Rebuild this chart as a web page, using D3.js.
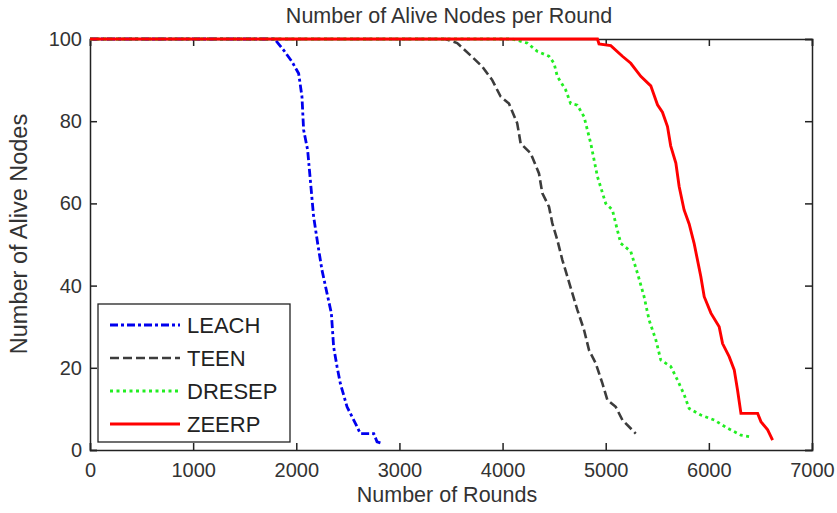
<!DOCTYPE html>
<html>
<head>
<meta charset="utf-8">
<script src="https://d3js.org/d3.v7.min.js"></script>
<style>
  body { margin: 0; background: #fff; }
  svg { font-family: "Liberation Sans", Arial, sans-serif; }
</style>
</head>
<body>
<script>
var w = 837, h = 513;

// DATA (rounds, alive nodes)
var seriesNames = ["LEACH", "TEEN", "DRESEP", "ZEERP"];
var xTicks = [0, 1000, 2000, 3000, 4000, 5000, 6000, 7000];
var yTicks = [0, 20, 40, 60, 80, 100];

var leach = [[0,100],[1790,100],[1877,97.3],[1958,94.5],[2023,91.6],[2055,86],[2071,77.9],[2110,73],
  [2136,65.7],[2168,56.8],[2207,50.3],[2249,43.8],[2298,38.1],[2340,33.3],[2362,25.1],[2395,20.3],
  [2427,16.2],[2492,10.5],[2573,6.5],[2621,4],[2751,4],[2783,2],[2832,1.6]];
var teen = [[0,100],[3447,100],[3560,99],[3690,96],[3803,93.3],[3900,90],[3981,86],[4062,84.3],
  [4142,79.5],[4175,74.6],[4272,72.2],[4353,67.3],[4385,62.5],[4450,59.2],[4482,55.2],[4531,51.1],
  [4580,46.2],[4628,42.2],[4677,38.1],[4725,34.1],[4790,29.2],[4838,24.3],[4903,21.1],[4968,16.2],
  [5016,12.2],[5097,10.5],[5162,7.3],[5291,4]];
var dresep = [[0,100],[4094,100],[4240,99],[4337,97],[4450,95.8],[4499,94.1],[4531,90.9],[4612,87.6],
  [4660,84.3],[4725,83.9],[4790,81.1],[4855,74.6],[4920,66.5],[5000,60],[5065,58.4],[5113,53.5],
  [5146,50.3],[5243,48.3],[5308,43],[5372,37.3],[5421,31.6],[5486,26.8],[5534,21.9],[5631,20.3],
  [5696,17],[5760,13.5],[5809,10.1],[5922,8.5],[6052,7.3],[6181,5.3],[6311,3.6],[6408,3.2]];
var zeerp = [[0,100],[4920,100],[4935,98.8],[5049,98.4],[5162,95.8],[5243,94.1],[5340,90.9],[5437,88.6],
  [5502,84],[5550,82.2],[5599,78.7],[5630,74],[5680,69.8],[5712,64.1],[5760,58.4],[5809,55],
  [5857,50.3],[5922,42.2],[5955,37.3],[6020,33.3],[6100,30],[6133,25.9],[6197,22.7],[6246,19.5],
  [6278,14.6],[6311,8.9],[6473,8.9],[6505,6.9],[6570,4.9],[6618,2.4]];

var allSeries = [leach, teen, dresep, zeerp];
var colors = ["#0000ee", "#3c3c3c", "#22ee22", "#ff0000"];
var dashes = ["8,3,3,3", "9,4", "3,3.5", null];
var widths = [2.8, 2.6, 2.8, 2.9];

var margin = {top: 39, right: 25, bottom: 63, left: 90};
var iw = w - margin.left - margin.right;
var ih = h - margin.top - margin.bottom;

var svg = d3.select("body").append("svg")
  .attr("width", w)
  .attr("height", h);

var g = svg.append("g")
  .attr("transform", "translate(" + margin.left + "," + margin.top + ")");

var x = d3.scaleLinear().domain([0, 7000]).range([0, iw]);
var y = d3.scaleLinear().domain([0, 100]).range([ih, 0]);

// AXES (ticks inside, box on all sides)
var tickLen = 7;
g.append("g").attr("transform", "translate(0," + ih + ")")
  .call(d3.axisBottom(x).tickValues(xTicks).tickSize(-tickLen).tickPadding(13).tickFormat(d3.format("d")));
g.append("g")
  .call(d3.axisLeft(y).tickValues(yTicks).tickSize(-tickLen).tickPadding(8));
g.append("g")
  .call(d3.axisTop(x).tickValues(xTicks).tickSize(-tickLen).tickFormat(""));
g.append("g").attr("transform", "translate(" + iw + ",0)")
  .call(d3.axisRight(y).tickValues(yTicks).tickSize(-tickLen).tickFormat(""));

g.selectAll(".domain").attr("stroke", "#222").attr("stroke-width", 1.5);
g.selectAll(".tick line").attr("stroke", "#222").attr("stroke-width", 1.5);
g.selectAll(".tick text").attr("font-size", 20).attr("fill", "#333")
  .attr("font-family", "Liberation Sans, Arial, sans-serif");

// LINES
var line = d3.line()
  .x(function(d) { return x(d[0]); })
  .y(function(d) { return y(d[1]); });

allSeries.forEach(function(s, i) {
  g.append("path")
    .datum(s)
    .attr("fill", "none")
    .attr("stroke", colors[i])
    .attr("stroke-width", widths[i])
    .attr("stroke-dasharray", dashes[i])
    .attr("d", line);
});

// LEGEND
var lg = svg.append("g").attr("transform", "translate(98,304)");
lg.append("rect")
  .attr("width", 192).attr("height", 138)
  .attr("fill", "#fff").attr("stroke", "#222").attr("stroke-width", 1.3);
seriesNames.forEach(function(name, i) {
  var ly = 21 + i * 33;
  lg.append("line")
    .attr("x1", 12).attr("x2", 82).attr("y1", ly).attr("y2", ly)
    .attr("stroke", colors[i]).attr("stroke-width", widths[i])
    .attr("stroke-dasharray", dashes[i]);
  lg.append("text")
    .attr("x", 89).attr("y", ly + 8)
    .attr("font-size", 22).attr("fill", "#222")
    .text(name);
});

// TITLES
svg.append("text")
  .attr("x", 449).attr("y", 23)
  .attr("text-anchor", "middle").attr("font-size", 21.5).attr("fill", "#333")
  .text("Number of Alive Nodes per Round");
svg.append("text")
  .attr("x", 447).attr("y", 502)
  .attr("text-anchor", "middle").attr("font-size", 21.5).attr("fill", "#333")
  .text("Number of Rounds");
svg.append("text")
  .attr("transform", "translate(27,234) rotate(-90)")
  .attr("text-anchor", "middle").attr("font-size", 23.5).attr("fill", "#333")
  .text("Number of Alive Nodes");
</script>
</body>
</html>
